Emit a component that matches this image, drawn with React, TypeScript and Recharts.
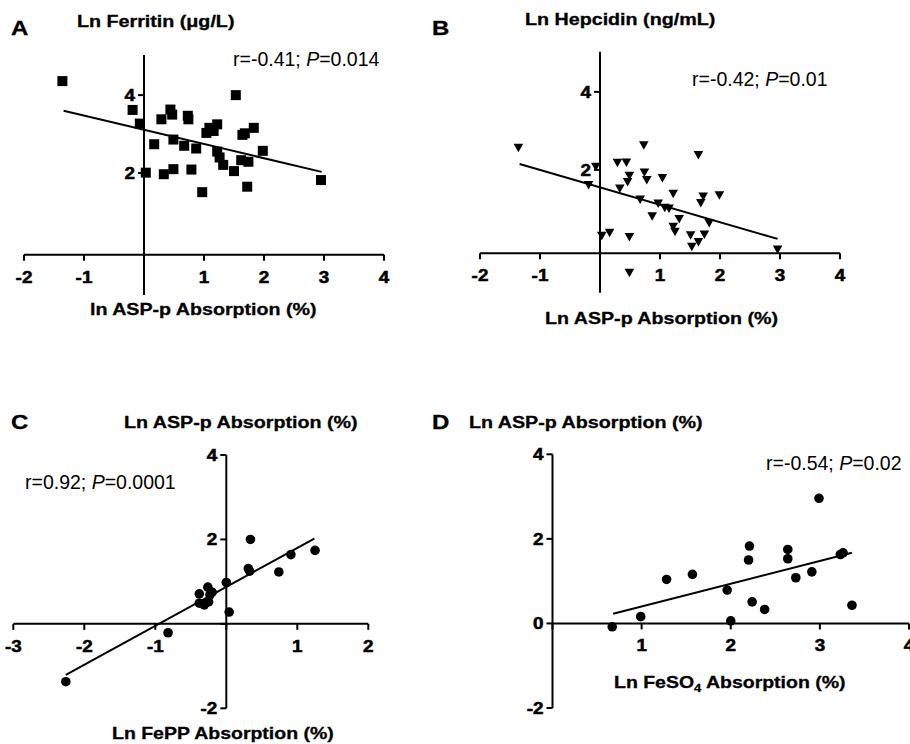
import React from "react";
import {
  ScatterChart,
  Scatter,
  XAxis,
  YAxis,
  ReferenceLine,
  ReferenceDot,
} from "recharts";

// A: ln ASP-p absorption vs ln ferritin
const ferritinAspX = [-1.36, -0.19, -0.07, 0.03, 0.17, 0.29, 0.33, 0.44, 0.47, 0.49, 0.49, 0.67, 0.73, 0.74, 0.79, 0.87, 0.97, 1.04, 1.09, 1.16, 1.22, 1.22, 1.26, 1.32, 1.5, 1.53, 1.62, 1.64, 1.68, 1.72, 1.74, 1.83, 1.98, 2.95];
const ferritinLn = [4.36, 3.62, 3.27, 2.01, 2.74, 3.38, 1.97, 3.63, 3.5, 2.86, 2.1, 2.7, 3.47, 3.38, 2.09, 2.63, 1.51, 3.03, 3.16, 3.08, 3.25, 2.55, 2.4, 2.21, 2.05, 4.0, 2.33, 2.98, 3.02, 1.65, 2.29, 3.16, 2.57, 1.82];
const ferritinFitX = [-1.34, 2.96];
const ferritinFitY = [3.6, 2.03];

// B: ln ASP-p absorption vs ln hepcidin
const hepcidinAspX = [-1.36, -0.19, -0.07, 0.03, 0.16, 0.29, 0.33, 0.44, 0.46, 0.49, 0.49, 0.49, 0.67, 0.73, 0.74, 0.78, 0.87, 0.97, 1.04, 1.08, 1.15, 1.22, 1.22, 1.25, 1.32, 1.51, 1.53, 1.64, 1.64, 1.68, 1.72, 1.74, 1.82, 1.99, 2.96];
const hepcidinLn = [2.57, 1.61, 2.08, 0.31, 0.39, 2.18, 1.52, 2.19, 1.69, 1.85, 0.28, -0.64, 1.24, 2.63, 1.93, 1.74, 0.81, 1.14, 1.79, 1.03, 1.01, 1.39, 0.54, 0.41, 0.74, 0.32, 0.03, 2.38, 0.15, 1.15, 1.32, 0.34, 0.64, 1.35, -0.04];
const hepcidinFitX = [-1.34, 2.96];
const hepcidinFitY = [2.15, 0.23];

// C: ln FePP absorption vs ln ASP-p absorption
const feppX = [-2.26, -0.82, -0.38, -0.38, -0.31, -0.26, -0.25, -0.23, -0.2, 0.0, 0.04, 0.31, 0.33, 0.34, 0.74, 0.91, 1.25];
const feppAspY = [-1.37, -0.21, 0.71, 0.49, 0.45, 0.87, 0.52, 0.69, 0.75, 0.98, 0.28, 1.31, 1.25, 2.0, 1.23, 1.64, 1.74];
const feppFitX = [-2.26, 1.24];
const feppFitY = [-1.21, 2.02];

// D: ln FeSO4 absorption vs ln ASP-p absorption
const feso4X = [0.67, 0.99, 1.28, 1.57, 1.96, 2.0, 2.2, 2.21, 2.24, 2.38, 2.64, 2.64, 2.73, 2.91, 2.99, 3.23, 3.26, 3.36];
const feso4AspY = [-0.08, 0.16, 1.04, 1.16, 0.79, 0.06, 1.5, 1.83, 0.51, 0.33, 1.75, 1.53, 1.08, 1.22, 2.96, 1.63, 1.67, 0.43];
const feso4FitX = [0.68, 3.36];
const feso4FitY = [0.23, 1.67];

const ticksAB = [-2, -1, 0, 1, 2, 3, 4];
const yTicksAB = [2, 4];
const ticksC = [-3, -2, -1, 0, 1, 2];
const yTicksC = [-2, 0, 2, 4];
const ticksD = [0, 1, 2, 3, 4];
const yTicksD = [-2, 0, 2, 4];

const FONT = '"Liberation Sans", Arial, Helvetica, sans-serif';
// the original figure is stretched sideways a little
const TICK_SX = 1.18;

const pairs = (xs: number[], ys: number[]) => xs.map((x, i) => ({ x, y: ys[i] }));

const Square = (p: any) => <rect x={p.cx - 5} y={p.cy - 5} width={10} height={10} fill="#000" />;
const TriangleDown = (p: any) => (
  <polygon points={`${p.cx - 4.8},${p.cy - 4} ${p.cx + 4.8},${p.cy - 4} ${p.cx},${p.cy + 4.5}`} fill="#000" />
);
const Circle = (p: any) => <circle cx={p.cx} cy={p.cy} r={4.8} fill="#000" />;
const NoMark = () => <g />;

const TickLabel = ({ x, y, anchor, children }: any) => (
  <text
    transform={`translate(${x} ${y}) scale(${TICK_SX} 1)`}
    textAnchor={anchor}
    fontFamily={FONT}
    fontWeight="bold"
    fontSize={16}
    fill="#000"
    stroke="#000"
    strokeWidth={0.5}
  >
    {children}
  </text>
);

const xTick = (label: string) => (p: any) => (
  <g>
    <line x1={p.cx} y1={p.cy} x2={p.cx} y2={p.cy + 6} stroke="#000" strokeWidth={2} />
    {label && <TickLabel x={p.cx} y={p.cy + 28} anchor="middle">{label}</TickLabel>}
  </g>
);

const yTick = (label: string) => (p: any) => (
  <g>
    <line x1={p.cx - 6} y1={p.cy} x2={p.cx} y2={p.cy} stroke="#000" strokeWidth={2} />
    {label && <TickLabel x={p.cx - 9} y={p.cy + 6} anchor="end">{label}</TickLabel>}
  </g>
);

interface PanelProps {
  left: number;
  top: number;
  width: number;
  height: number;
  margin: { top: number; right: number; bottom: number; left: number };
  xDomain: [number, number];
  yDomain: [number, number];
  xCross: number;
  xTicks: number[];
  yTicks: number[];
  xLabels: number[];
  yLabels: number[];
  points: { x: number; y: number }[];
  fit: { x: number; y: number }[];
  shape: (p: any) => React.ReactElement;
}

function Panel(props: PanelProps) {
  const { xDomain, yDomain, xCross } = props;
  return (
    <div style={{ position: "absolute", left: props.left, top: props.top }}>
      <ScatterChart width={props.width} height={props.height} margin={props.margin}>
        <XAxis type="number" dataKey="x" domain={xDomain} hide allowDataOverflow />
        <YAxis type="number" dataKey="y" domain={yDomain} hide allowDataOverflow />
        <ReferenceLine
          segment={[{ x: 0, y: yDomain[0] }, { x: 0, y: yDomain[1] }]}
          stroke="#000"
          strokeWidth={2}
          ifOverflow="visible"
        />
        <ReferenceLine
          segment={[{ x: xDomain[0], y: xCross }, { x: xDomain[1], y: xCross }]}
          stroke="#000"
          strokeWidth={2}
          ifOverflow="visible"
        />
        {props.xTicks.map((t) => (
          <ReferenceDot
            key={"x" + t}
            x={t}
            y={xCross}
            r={0}
            ifOverflow="visible"
            shape={xTick(props.xLabels.includes(t) ? String(t) : "")}
          />
        ))}
        {props.yTicks.map((t) => (
          <ReferenceDot
            key={"y" + t}
            x={0}
            y={t}
            r={0}
            ifOverflow="visible"
            shape={yTick(props.yLabels.includes(t) ? String(t) : "")}
          />
        ))}
        <Scatter data={props.points} shape={props.shape} isAnimationActive={false} />
        <Scatter
          data={props.fit}
          line={{ stroke: "#000", strokeWidth: 2 }}
          shape={NoMark}
          isAnimationActive={false}
        />
      </ScatterChart>
    </div>
  );
}

const Txt = ({ x, y, size, sx = 1, bold = true, children }: any) => (
  <div
    style={{
      position: "absolute",
      left: x,
      top: y - size * 0.49,
      fontFamily: FONT,
      fontSize: size,
      fontWeight: bold ? "bold" : "normal",
      lineHeight: 1,
      whiteSpace: "nowrap",
      color: "#000",
      transform: `scaleX(${sx})`,
      transformOrigin: "left center",
      WebkitTextStroke: bold ? "0.3px #000" : undefined,
    }}
  >
    {children}
  </div>
);

export default function App() {
  return (
    <div
      style={{
        position: "absolute",
        left: 0,
        top: 0,
        width: 910,
        height: 744,
        overflow: "hidden",
        background: "#fff",
      }}
    >
      <Panel
        left={0}
        top={40}
        width={430}
        height={300}
        margin={{ top: 15, right: 46, bottom: 45, left: 24 }}
        xDomain={[-2, 4]}
        yDomain={[-1.13, 5.03]}
        xCross={-0.1}
        xTicks={ticksAB}
        yTicks={yTicksAB}
        xLabels={[-2, -1, 1, 2, 3, 4]}
        yLabels={[2, 4]}
        points={pairs(ferritinAspX, ferritinLn)}
        fit={pairs(ferritinFitX, ferritinFitY)}
        shape={Square}
      />
      <Panel
        left={455}
        top={40}
        width={430}
        height={300}
        margin={{ top: 11.7, right: 45, bottom: 47.3, left: 25 }}
        xDomain={[-2, 4]}
        yDomain={[-1.15, 5.03]}
        xCross={-0.14}
        xTicks={ticksAB}
        yTicks={yTicksAB}
        xLabels={[-2, -1, 1, 2, 3, 4]}
        yLabels={[2, 4]}
        points={pairs(hepcidinAspX, hepcidinLn)}
        fit={pairs(hepcidinFitX, hepcidinFitY)}
        shape={TriangleDown}
      />
      <Panel
        left={0}
        top={380}
        width={430}
        height={364}
        margin={{ top: 75, right: 61.7, bottom: 35.7, left: 13.3 }}
        xDomain={[-3, 2]}
        yDomain={[-2, 4]}
        xCross={0}
        xTicks={ticksC}
        yTicks={yTicksC}
        xLabels={[-3, -2, -1, 1, 2]}
        yLabels={[-2, 2, 4]}
        points={pairs(feppX, feppAspY)}
        fit={pairs(feppFitX, feppFitY)}
        shape={Circle}
      />
      <Panel
        left={455}
        top={380}
        width={455}
        height={364}
        margin={{ top: 74.3, right: 1, bottom: 36, left: 97.5 }}
        xDomain={[0, 4]}
        yDomain={[-2, 4]}
        xCross={0}
        xTicks={ticksD}
        yTicks={yTicksD}
        xLabels={[1, 2, 3, 4]}
        yLabels={[-2, 0, 2, 4]}
        points={pairs(feso4X, feso4AspY)}
        fit={pairs(feso4FitX, feso4FitY)}
        shape={Circle}
      />

      <Txt x={11} y={28} size={20} sx={1.2}>A</Txt>
      <Txt x={77} y={22} size={16} sx={1.23}>Ln Ferritin (μg/L)</Txt>
      <Txt x={233} y={60} size={19.5} bold={false}>
        r=-0.41; <i>P</i>=0.014
      </Txt>
      <Txt x={90} y={309} size={16.5} sx={1.19}>ln ASP-p Absorption (%)</Txt>

      <Txt x={432} y={28} size={20} sx={1.2}>B</Txt>
      <Txt x={525} y={20} size={16} sx={1.23}>Ln Hepcidin (ng/mL)</Txt>
      <Txt x={692} y={80} size={19.5} bold={false}>
        r=-0.42; <i>P</i>=0.01
      </Txt>
      <Txt x={545} y={318} size={16.5} sx={1.19}>Ln ASP-p Absorption (%)</Txt>

      <Txt x={11} y={422} size={20} sx={1.2}>C</Txt>
      <Txt x={124} y={423} size={16} sx={1.23}>Ln ASP-p Absorption (%)</Txt>
      <Txt x={25} y={483} size={19.5} bold={false}>
        r=0.92; <i>P</i>=0.0001
      </Txt>
      <Txt x={112} y={733} size={16.5} sx={1.18}>Ln FePP Absorption (%)</Txt>

      <Txt x={432} y={422} size={20} sx={1.2}>D</Txt>
      <Txt x={469} y={423} size={16} sx={1.23}>Ln ASP-p Absorption (%)</Txt>
      <Txt x={766} y={464} size={19.5} bold={false}>
        r=-0.54; <i>P</i>=0.02
      </Txt>
      <Txt x={614} y={682} size={16.5} sx={1.18}>
        Ln FeSO<sub style={{ fontSize: 11, lineHeight: 0 }}>4</sub> Absorption (%)
      </Txt>
    </div>
  );
}
